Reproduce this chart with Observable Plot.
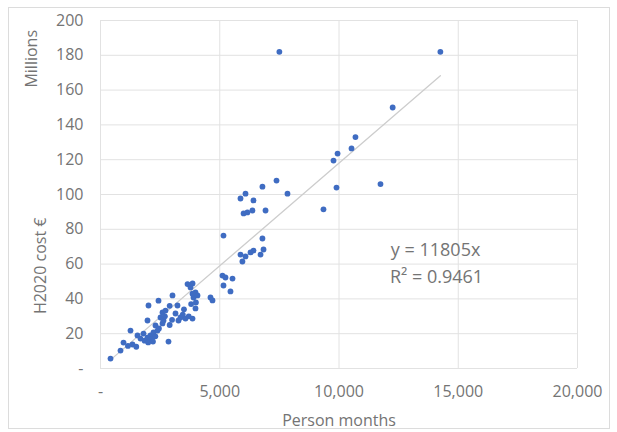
<!DOCTYPE html>
<html>
<head>
<meta charset="utf-8">
<script src="https://cdn.jsdelivr.net/npm/d3@7"></script>
<script src="https://cdn.jsdelivr.net/npm/@observablehq/plot@0.6"></script>
<style>
  body { margin: 0; background: #fff; }
  #wrap { position: relative; width: 617px; height: 432px; }
  #border { position: absolute; left: 8px; top: 7px; width: 602px; height: 422px; border: 1px solid #dcdcdc; box-sizing: border-box; }
  #chart { position: absolute; left: 0; top: 0; }
</style>
</head>
<body>
<div id="wrap"><div id="border"></div><div id="chart"></div></div>
<script>
// Person months (x) and H2020 cost in millions € (y)
const personMonths = [
  7500, 14250, 12250, 10690, 10525, 9940, 9770, 9895, 11740, 9350,
  6790, 7380, 7840, 6080, 5870, 6415, 6370, 6160, 6000, 6920,
  5157, 6790, 6835, 6415, 6290, 5870, 6710, 6080, 5950, 5115,
  5240, 5535, 5157, 5450, 3860, 3650, 3775, 3983, 3900, 4067,
  3858, 4612, 4696, 3983, 3858,
  420, 839, 965, 1342, 1258, 1551, 1677, 1803, 1971, 2013,
  1971, 2096, 2222, 2390, 2306, 2432, 2516, 2600, 2725, 2642,
  2851, 2600, 3019, 3145, 3270, 3228, 3354, 3564,
  1850, 2000, 2150, 2300, 2450, 2700, 2900, 3000, 3450, 3700,
  3800, 4000, 3500, 2900, 1150, 1500, 2200
];
const costMillions = [
  182, 182, 150, 133, 126.5, 123.5, 119.5, 104, 106, 91.5,
  104.5, 108, 100.5, 100.5, 97.7, 96.6, 90.8, 89.7, 89.1, 90.8,
  76.4, 74.7, 68.4, 67.8, 66.7, 65.5, 65.5, 64.4, 61.5, 53.4,
  52.3, 51.7, 47.7, 44.3, 48.9, 48.5, 46.6, 43.7, 40.8, 42,
  43, 40.8, 39.1, 34.5, 28.7,
  5.7, 10.3, 14.9, 13.8, 21.8, 19, 17.2, 20.1, 27.6, 36.2,
  17.8, 19, 20.7, 21.8, 24.7, 39, 29.3, 32.2, 33.3, 27.6,
  15.5, 25.9, 42, 31.6, 27.6, 36.2, 29.3, 28.7,
  16, 15, 17, 18.5, 23, 30, 25, 28, 31, 30,
  37, 38, 34, 36, 13, 12.5, 15.5
];
const xTicks = [0, 5000, 10000, 15000, 20000];
const yTicks = [0, 20, 40, 60, 80, 100, 120, 140, 160, 180, 200];
const slopeEuro = 11805;          // € per person month (trendline through origin)
const rSquared = "0.9461";
const equationLines = [`y = ${slopeEuro}x`, `R² = ${rSquared}`];

const points = personMonths.map((x, i) => ({x, y: costMillions[i]}));
const slopeM = slopeEuro / 1e6;
const xMin = d3.min(personMonths), xMax = d3.max(personMonths);
const trend = [xMin, xMax].map(x => ({x, y: x * slopeM}));
const fmtX = d => d === 0 ? "-" : d3.format(",")(d);
const fmtY = d => d === 0 ? "-" : String(d);
const textColor = "#747474";

const plot = Plot.plot({
  width: 617,
  height: 432,
  marginLeft: 100,
  marginRight: 40,
  marginTop: 20,
  marginBottom: 64,
  style: {fontFamily: "'Open Sans', sans-serif", fontSize: "16px", color: textColor, background: "transparent"},
  x: {domain: [0, 20000], ticks: xTicks, tickFormat: fmtX, tickSize: 0, tickPadding: 17, label: null},
  y: {domain: [0, 200], ticks: yTicks, tickFormat: fmtY, tickSize: 0, tickPadding: 17, label: null},
  marks: [
    Plot.gridX(xTicks, {stroke: "#e2e2e2", strokeOpacity: 1}),
    Plot.gridY(yTicks, {stroke: "#e2e2e2", strokeOpacity: 1}),
    Plot.line(trend, {x: "x", y: "y", stroke: "#cdcdcd", strokeWidth: 1.3}),
    Plot.dot(points, {x: "x", y: "y", r: 2.9, fill: "#3f6cc2", stroke: "none"}),
    Plot.text([equationLines[0]], {x: [14050], y: [67.8], text: d => d, fill: textColor, fontSize: 18}),
    Plot.text([equationLines[1]], {x: [14090], y: [52.3], text: d => d, fill: textColor, fontSize: 18}),
    Plot.text(["Person months"], {frameAnchor: "bottom", dy: 57, text: d => d, fill: textColor, fontSize: 16}),
    Plot.text(["H2020 cost €"], {y: [59], frameAnchor: "left", textAnchor: "middle", dx: -60, rotate: -90, text: d => d, fill: textColor, fontSize: 16}),
    Plot.text(["Millions"], {y: [178], frameAnchor: "left", textAnchor: "middle", dx: -69, rotate: -90, text: d => d, fill: textColor, fontSize: 16})
  ]
});
document.getElementById("chart").appendChild(plot);
</script>
</body>
</html>
